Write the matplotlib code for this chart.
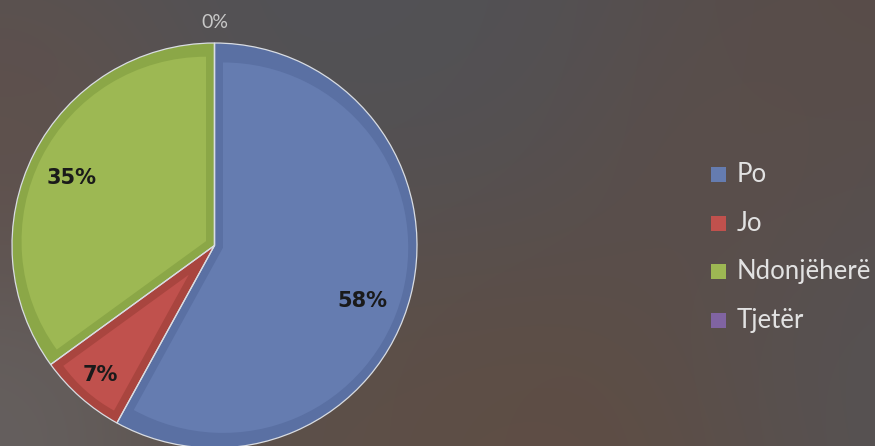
import matplotlib
matplotlib.use("Agg")
import matplotlib.pyplot as plt
import matplotlib.patches as mpatches
import numpy as np

# data
labels = ['Po', 'Jo', 'Ndonjëherë', 'Tjetër']
values = [58, 7, 35, 0]
face_colors = ['#657cb0', '#c0514d', '#9db853', '#8064a2']
edge_colors = ['#5a70a3', '#a9453f', '#8ba747', '#6f568f']

W, H = 875, 446
fig = plt.figure(figsize=(W / 100, H / 100), dpi=100)
ax = fig.add_axes([0, 0, 1, 1])

# blurry photo-like background
yy, xx = np.mgrid[0:H, 0:W]
blobs = [  # x, y (from top), sigma, rgb
    (480, 80, 160, (80, 82, 88)),
    (860, 40, 190, (90, 74, 68)),
    (720, 160, 90, (94, 78, 72)),
    (560, 420, 170, (100, 75, 60)),
    (0, 160, 110, (98, 80, 74)),
    (0, 430, 120, (108, 102, 100)),
    (870, 330, 140, (84, 84, 88)),
    (320, 440, 140, (94, 80, 72)),
]
acc = np.zeros((H, W, 3)) + 0.4 * np.array([84, 82, 84])
wsum = np.full((H, W), 0.4)
for bx, by, s, c in blobs:
    w = np.exp(-((xx - bx) ** 2 + (yy - by) ** 2) / (2 * s ** 2))
    acc += w[..., None] * np.array(c)
    wsum += w
bg = acc / wsum[..., None] / 255.0
ax.imshow(bg, extent=[0, W, 0, H], origin='upper', zorder=0, aspect='auto')

cx, cy, r = 214.5, H - 245.5, 202.5
border = 8.5  # px, darker inner rim of each slice

# base pie in the darker rim colour
wedges, _ = ax.pie(values, colors=edge_colors, startangle=90, counterclock=False,
                   center=(cx, cy), radius=r, frame=True,
                   wedgeprops=dict(linewidth=0))
for w in wedges:
    w.set_zorder(2)

# lighter inset face of every slice
for w, fc in zip(wedges, face_colors):
    span = w.theta2 - w.theta1
    if span <= 0:
        continue
    mid = np.deg2rad((w.theta1 + w.theta2) / 2)
    shift = border / np.sin(np.deg2rad(span / 2))
    c2 = (cx + shift * np.cos(mid), cy + shift * np.sin(mid))
    ax.add_patch(mpatches.Wedge(c2, r - border - shift, w.theta1, w.theta2,
                                facecolor=fc, edgecolor='none', zorder=2.5))

# thin light outline
outline, _ = ax.pie(values, colors=['none'] * 4, startangle=90, counterclock=False,
                    center=(cx, cy), radius=r, frame=True,
                    wedgeprops=dict(linewidth=0.9, edgecolor='#d9dde3', facecolor='none'))
for w in outline:
    w.set_zorder(3)
ax.set_xlim(0, W)
ax.set_ylim(0, H)
ax.axis('off')

# percentage labels
label_dist = [0.78, 0.85, 0.78, 1.1]
angle_shift = [-6, 0, 1.5, 0]
for w, v, d, sh in zip(wedges, values, label_dist, angle_shift):
    mid = np.deg2rad((w.theta1 + w.theta2) / 2 + sh)
    tx = cx + d * r * np.cos(mid)
    ty = cy + d * r * np.sin(mid)
    if v == 0:
        ax.text(tx, ty, f'{v}%', ha='center', va='center', fontsize=14,
                family='Lato', color='#c8c8c8', zorder=4)
    else:
        ax.text(tx, ty, f'{v}%', ha='center', va='center', fontsize=15,
                family='DejaVu Sans', fontweight='bold', color='#1a1a1a', zorder=4)

# legend
for i, (lab, fc) in enumerate(zip(labels, face_colors)):
    yc = H - (174.5 + i * 48.7)
    ax.add_patch(mpatches.Rectangle((711, yc - 7.5), 15, 15, facecolor=fc,
                                    edgecolor='none', zorder=4))
    ax.text(737, yc, lab, ha='left', va='center', fontsize=18.5, family='Lato',
            color='#e2e2e2', zorder=4)

fig.savefig('out.png', dpi=100)
